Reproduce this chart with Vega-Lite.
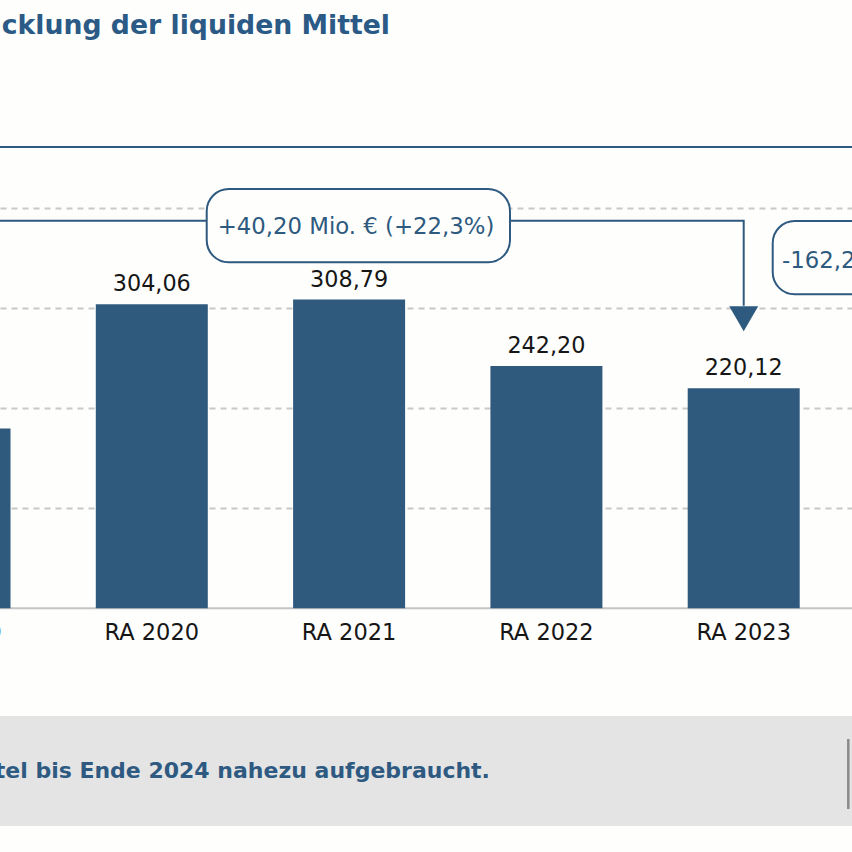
{
  "$schema": "https://vega.github.io/schema/vega-lite/v6.json",
  "width": 852,
  "height": 852,
  "autosize": {"type": "none"},
  "padding": 0,
  "background": "#fefefd",
  "config": {
    "view": {"stroke": null},
    "font": "DejaVu Sans",
    "locale": {"number": {"decimal": ",", "thousands": ".", "grouping": [3], "currency": ["", " €"]}}
  },
  "datasets": {
    "bars": [
      {"jahr": 2019, "label": "RA 2019", "wert": 179.92},
      {"jahr": 2020, "label": "RA 2020", "wert": 304.06},
      {"jahr": 2021, "label": "RA 2021", "wert": 308.79},
      {"jahr": 2022, "label": "RA 2022", "wert": 242.20},
      {"jahr": 2023, "label": "RA 2023", "wert": 220.12}
    ],
    "bracket": [
      {"jahr": 2019, "y": 387.6, "o": 1},
      {"jahr": 2023, "y": 387.6, "o": 2},
      {"jahr": 2023, "y": 302.6, "o": 3}
    ],
    "arrow": [{"jahr": 2023, "y": 289.6}],
    "boxes": [
      {"x1": 2020.2783, "x2": 2021.8155, "y1": 419.3, "y2": 346.0, "tx": 2020.334, "ty": 374.0, "text": "+40,20 Mio. € (+22,3%)"},
      {"x1": 2023.147, "x2": 2024.2, "y1": 387.3, "y2": 314.0, "tx": 2023.194, "ty": 340.6, "text": "-162,20 Mio. € (-73,7%)"}
    ],
    "titel": [{"x": 2021.2073, "y": 574.0, "text": "Entwicklung der liquiden Mittel"}],
    "separator": [{"x1": 2019.0, "x2": 2024.0, "y": 461.3}],
    "fazitbox": [{"x1": 2019.0, "x2": 2024.0, "y1": -107.7, "y2": -217.7}],
    "fazit": [{"x": 2021.7141, "y": -170.0, "text": "Damit sind die liquiden Mittel bis Ende 2024 nahezu aufgebraucht."}],
    "fazitlinie": [{"x": 2023.5301, "y1": -130.7, "y2": -200.7}]
  },
  "layer": [
    {
      "data": {"name": "fazitbox"},
      "mark": {"type": "rect", "fill": "#e4e4e4", "clip": true},
      "encoding": {
        "x": {"field": "x1", "type": "quantitative", "scale": {"domain": [2019.2306, 2023.5489], "nice": false, "zero": false, "padding": 0}, "axis": null},
        "x2": {"field": "x2"},
        "y": {"field": "y1", "type": "quantitative", "scale": {"domain": [-243.7, 608.3], "nice": false, "zero": false, "padding": 0},
              "axis": {"values": [100, 200, 300, 400], "grid": true, "gridDash": [6, 5], "gridColor": "#c8c8c8", "gridWidth": 2, "labels": false, "ticks": false, "domain": false, "title": null}},
        "y2": {"field": "y2"}
      }
    },
    {
      "data": {"name": "separator"},
      "mark": {"type": "rule", "stroke": "#2e5a80", "strokeWidth": 2, "clip": true},
      "encoding": {
        "x": {"field": "x1", "type": "quantitative"},
        "x2": {"field": "x2"},
        "y": {"field": "y", "type": "quantitative"}
      }
    },
    {
      "data": {"name": "separator"},
      "mark": {"type": "rule", "stroke": "#c4c4c4", "strokeWidth": 2, "clip": true},
      "encoding": {
        "x": {"field": "x1", "type": "quantitative"},
        "x2": {"field": "x2"},
        "y": {"datum": 0, "type": "quantitative"}
      }
    },
    {
      "data": {"name": "bars"},
      "mark": {"type": "bar", "size": 112, "color": "#2f5a7e"},
      "encoding": {
        "x": {"field": "jahr", "type": "quantitative"},
        "y": {"field": "wert", "type": "quantitative"}
      }
    },
    {
      "data": {"name": "bars"},
      "mark": {"type": "text", "fontSize": 22.3, "color": "#161616", "baseline": "alphabetic", "dy": -13},
      "encoding": {
        "x": {"field": "jahr", "type": "quantitative"},
        "y": {"field": "wert", "type": "quantitative"},
        "text": {"field": "wert", "type": "quantitative", "format": ".2f"}
      }
    },
    {
      "data": {"name": "bars"},
      "mark": {"type": "text", "fontSize": 22.5, "color": "#161616", "baseline": "alphabetic", "dy": 32},
      "encoding": {
        "x": {"field": "jahr", "type": "quantitative"},
        "y": {"datum": 0, "type": "quantitative"},
        "text": {"field": "label"}
      }
    },
    {
      "data": {"name": "bracket"},
      "mark": {"type": "line", "stroke": "#2e5a80", "strokeWidth": 2},
      "encoding": {
        "x": {"field": "jahr", "type": "quantitative"},
        "y": {"field": "y", "type": "quantitative"},
        "order": {"field": "o"}
      }
    },
    {
      "data": {"name": "arrow"},
      "mark": {"type": "point", "shape": "triangle-down", "size": 841, "filled": true, "color": "#2e5a80", "opacity": 1},
      "encoding": {
        "x": {"field": "jahr", "type": "quantitative"},
        "y": {"field": "y", "type": "quantitative"}
      }
    },
    {
      "data": {"name": "boxes"},
      "mark": {"type": "rect", "cornerRadius": 22, "fill": "#fefefd", "stroke": "#2e5a80", "strokeWidth": 2},
      "encoding": {
        "x": {"field": "x1", "type": "quantitative"},
        "x2": {"field": "x2"},
        "y": {"field": "y1", "type": "quantitative"},
        "y2": {"field": "y2"}
      }
    },
    {
      "data": {"name": "boxes"},
      "mark": {"type": "text", "fontSize": 22.8, "color": "#2e5a80", "align": "left", "baseline": "alphabetic"},
      "encoding": {
        "x": {"field": "tx", "type": "quantitative"},
        "y": {"field": "ty", "type": "quantitative"},
        "text": {"field": "text"}
      }
    },
    {
      "data": {"name": "titel"},
      "mark": {"type": "text", "fontSize": 26.7, "fontWeight": "bold", "color": "#2b5a86", "align": "right", "baseline": "alphabetic"},
      "encoding": {
        "x": {"field": "x", "type": "quantitative"},
        "y": {"field": "y", "type": "quantitative"},
        "text": {"field": "text"}
      }
    },
    {
      "data": {"name": "fazit"},
      "mark": {"type": "text", "fontSize": 22, "fontWeight": "bold", "color": "#2e5a82", "align": "right", "baseline": "alphabetic"},
      "encoding": {
        "x": {"field": "x", "type": "quantitative"},
        "y": {"field": "y", "type": "quantitative"},
        "text": {"field": "text"}
      }
    },
    {
      "data": {"name": "fazitlinie"},
      "mark": {"type": "rule", "stroke": "#8a8a8a", "strokeWidth": 2.5},
      "encoding": {
        "x": {"field": "x", "type": "quantitative"},
        "y": {"field": "y1", "type": "quantitative"},
        "y2": {"field": "y2"}
      }
    }
  ]
}
